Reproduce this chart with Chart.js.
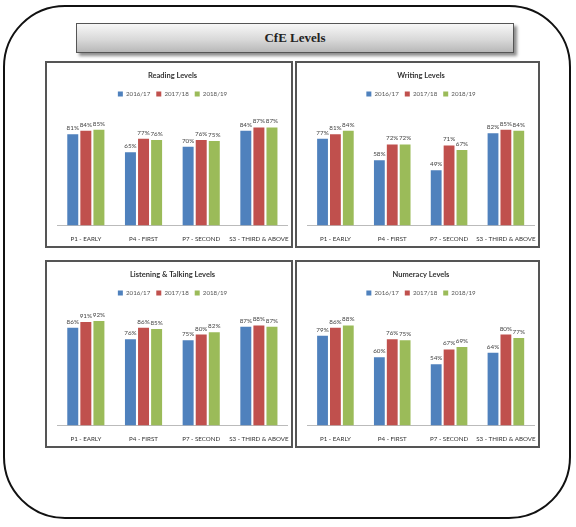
<!DOCTYPE html>
<html>
<head>
<meta charset="utf-8">
<script src="https://cdn.jsdelivr.net/npm/chart.js@4.4.0/dist/chart.umd.min.js"></script>
<style>
  body { margin: 0; background: #fff; width: 576px; height: 527px; position: relative; overflow: hidden; }
  #frame { position: absolute; left: 3px; top: 5px; width: 568px; height: 514px; border: 2.5px solid #111; border-radius: 62px; box-sizing: border-box; }
  #banner { position: absolute; left: 76px; top: 23px; width: 438px; height: 30px; box-sizing: border-box;
    border: 1.5px solid #555; background: linear-gradient(#f7f7f7, #d9d9d9 55%, #b8b8b8);
    box-shadow: 3px 3px 3px rgba(0,0,0,0.45);
    font: bold 13px "Liberation Serif", serif; color: #222; text-align: center; line-height: 27px; }
  .box { position: absolute; border: 2px solid #555; box-sizing: border-box; background: #fff; }
  .box canvas { display: block; }
</style>
</head>
<body>
<div id="frame"></div>
<div id="banner">CfE Levels</div>
<div class="box" style="left:45px;top:61px;width:248px;height:187px"><canvas id="c1" width="244" height="183"></canvas></div>
<div class="box" style="left:295px;top:61px;width:245px;height:187px"><canvas id="c2" width="241" height="183"></canvas></div>
<div class="box" style="left:45px;top:260px;width:248px;height:188px"><canvas id="c3" width="244" height="184"></canvas></div>
<div class="box" style="left:295px;top:260px;width:245px;height:188px"><canvas id="c4" width="241" height="184"></canvas></div>
<script>
const levels = ["P1 - EARLY", "P4 - FIRST", "P7 - SECOND", "S3 - THIRD & ABOVE"];
const years = ["2016/17", "2017/18", "2018/19"];
const colors = ["#4F81BD", "#C0504D", "#9BBB59"];

// percentages per year, in the order of levels
const reading2016 = [81, 65, 70, 84];
const reading2017 = [84, 77, 76, 87];
const reading2018 = [85, 76, 75, 87];

const writing2016 = [77, 58, 49, 82];
const writing2017 = [81, 72, 71, 85];
const writing2018 = [84, 72, 67, 84];

const listening2016 = [86, 76, 75, 87];
const listening2017 = [91, 86, 80, 88];
const listening2018 = [92, 85, 82, 87];

const numeracy2016 = [79, 60, 54, 64];
const numeracy2017 = [86, 76, 67, 80];
const numeracy2018 = [88, 75, 69, 77];

const FONT = "Lato, 'Liberation Sans', sans-serif";

// writes the value with a % sign above each bar
const valueLabels = {
  id: "valueLabels",
  afterDatasetsDraw(chart) {
    const ctx = chart.ctx;
    ctx.save();
    ctx.font = "6.3px " + FONT;
    ctx.fillStyle = "#444";
    ctx.textAlign = "center";
    ctx.textBaseline = "bottom";
    chart.data.datasets.forEach((ds, i) => {
      chart.getDatasetMeta(i).data.forEach((bar, j) => {
        ctx.fillText(ds.data[j] + "%", bar.x, bar.y - 3);
      });
    });
    ctx.restore();
  },
};

function makeChart(id, title, series) {
  return new Chart(document.getElementById(id), {
    type: "bar",
    data: {
      labels: levels,
      datasets: series.map((values, i) => ({
        label: years[i],
        data: values,
        backgroundColor: colors[i],
        categoryPercentage: 0.68,
        barPercentage: 0.84,
      })),
    },
    options: {
      responsive: false,
      animation: false,
      layout: { padding: { left: 10, right: 3, top: 2, bottom: 1 } },
      plugins: {
        title: {
          display: true,
          text: title,
          color: "#333",
          font: { family: FONT, size: 7.5, weight: "bold" },
          padding: { top: 6, bottom: 5 },
        },
        legend: {
          labels: {
            boxWidth: 5,
            boxHeight: 5,
            padding: 6,
            color: "#555",
            font: { family: FONT, size: 6.2 },
          },
        },
        tooltip: { enabled: false },
      },
      scales: {
        x: {
          grid: { display: false },
          border: { display: true, color: "#bbb" },
          ticks: { color: "#333", padding: 2, font: { family: FONT, size: 6.2 }, maxRotation: 0, autoSkip: false },
        },
        y: { display: false, min: 0, max: 105 },
      },
    },
    plugins: [valueLabels],
  });
}

makeChart("c1", "Reading Levels", [reading2016, reading2017, reading2018]);
makeChart("c2", "Writing Levels", [writing2016, writing2017, writing2018]);
makeChart("c3", "Listening & Talking Levels", [listening2016, listening2017, listening2018]);
makeChart("c4", "Numeracy Levels", [numeracy2016, numeracy2017, numeracy2018]);
</script>
</body>
</html>
